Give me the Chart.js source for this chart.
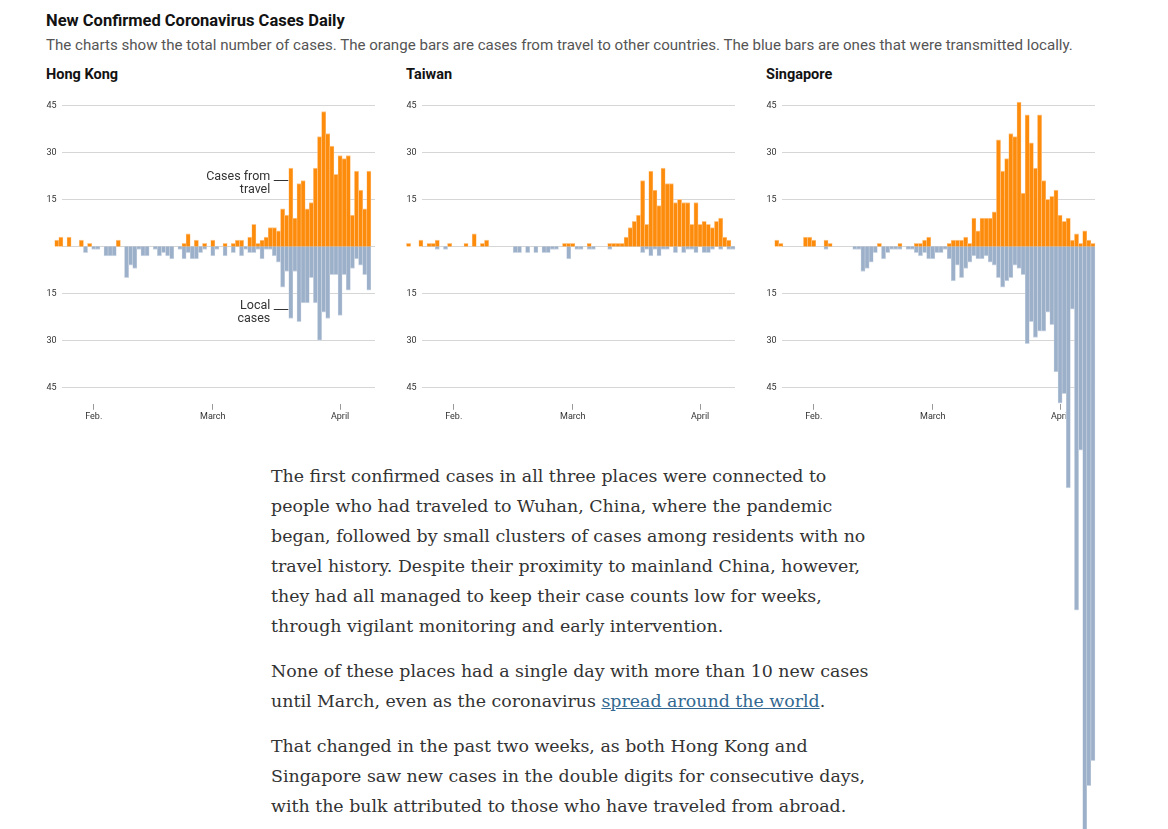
<!DOCTYPE html>
<html>
<head>
<meta charset="utf-8">
<script src="https://cdn.jsdelivr.net/npm/chart.js@4"></script>
<style>
  body { margin: 0; background: #fff; width: 1168px; height: 829px; overflow: hidden; position: relative; font-family: Roboto, sans-serif; color: #333; }
  .title { position: absolute; left: 46px; top: 11px; font-size: 16.5px; line-height: 19px; font-weight: bold; color: #121212; }
  .sub { position: absolute; left: 46px; top: 36px; font-size: 15.1px; line-height: 18px; color: #555; }
  .panel { position: absolute; top: 66px; font-size: 14.5px; line-height: 18px; font-weight: bold; color: #121212; }
  canvas { position: absolute; top: 90px; }
  .story { position: absolute; left: 271px; font-family: "DejaVu Serif", serif; font-size: 17.4px; line-height: 30px; color: #333; white-space: nowrap; }
  .story a { color: #326891; text-decoration: underline; }
</style>
</head>
<body>
<div class="title">New Confirmed Coronavirus Cases Daily</div>
<div class="sub">The charts show the total number of cases. The orange bars are cases from travel to other countries. The blue bars are ones that were transmitted locally.</div>
<div class="panel" style="left:46px">Hong Kong</div>
<div class="panel" style="left:406px">Taiwan</div>
<div class="panel" style="left:766px">Singapore</div>

<div class="story" style="top:461px">The first confirmed cases in all three places were connected to<br>people who had traveled to Wuhan, China, where the pandemic<br>began, followed by small clusters of cases among residents with no<br>travel history. Despite their proximity to mainland China, however,<br>they had all managed to keep their case counts low for weeks,<br>through vigilant monitoring and early intervention.</div>
<div class="story" style="top:656px">None of these places had a single day with more than 10 new cases<br>until March, even as the coronavirus <a>spread around the world</a>.</div>
<div class="story" style="top:731px">That changed in the past two weeks, as both Hong Kong and<br>Singapore saw new cases in the double digits for consecutive days,<br>with the bulk attributed to those who have traveled from abroad.</div>

<canvas id="hk" width="340" height="739" style="left:40px"></canvas>
<canvas id="tw" width="340" height="739" style="left:400px"></canvas>
<canvas id="sg" width="340" height="739" style="left:760px"></canvas>

<script>
const days = [
  'Jan 21','Jan 22','Jan 23','Jan 24','Jan 25','Jan 26','Jan 27','Jan 28','Jan 29','Jan 30','Jan 31',
  'Feb 1','Feb 2','Feb 3','Feb 4','Feb 5','Feb 6','Feb 7','Feb 8','Feb 9','Feb 10',
  'Feb 11','Feb 12','Feb 13','Feb 14','Feb 15','Feb 16','Feb 17','Feb 18','Feb 19','Feb 20',
  'Feb 21','Feb 22','Feb 23','Feb 24','Feb 25','Feb 26','Feb 27','Feb 28','Feb 29',
  'Mar 1','Mar 2','Mar 3','Mar 4','Mar 5','Mar 6','Mar 7','Mar 8','Mar 9','Mar 10',
  'Mar 11','Mar 12','Mar 13','Mar 14','Mar 15','Mar 16','Mar 17','Mar 18','Mar 19','Mar 20',
  'Mar 21','Mar 22','Mar 23','Mar 24','Mar 25','Mar 26','Mar 27','Mar 28','Mar 29','Mar 30','Mar 31',
  'Apr 1','Apr 2','Apr 3','Apr 4','Apr 5','Apr 6','Apr 7','Apr 8','Apr 9'
];
const tickDays = ['Feb 1', 'Mar 1', 'Apr 1'];
const tickNames = ['Feb.', 'March', 'April'];
const yTickValues = [-45, -30, -15, 15, 30, 45];
const gridValues = [-45, -30, -15, 0, 15, 30, 45];

const hkTravel = [0,0,
  2,3,0,3,0,0,2,0,1,0, 0,0,0,0,0,2,0,0,0,0, 0,0,0,0,0,0,0,0,0,0,
  0,1,4,0,2,0,1,0,2,0, 0,1,0,1,2,2,0,3,7,1, 2,3,6,6,5,12,10,25,9,20,
  21,12,14,25,35,43,36,32,23,29, 28,29,10,24,18,12,24,0];
const hkLocal = [0,0,
  0,0,0,0,0,0,0,2,0,1, 1,0,3,3,3,0,0,10,6,7, 1,3,3,0,1,3,2,3,4,0,
  1,4,2,4,4,2,1,0,3,1, 0,3,0,2,0,3,1,2,2,1, 4,1,1,3,5,13,8,23,8,24,
  18,18,10,18,30,21,23,9,9,22, 9,14,7,4,6,9,14,0];

const twTravel = [1,0,
  0,2,0,1,1,2,0,0,1,0, 0,0,1,0,4,0,1,2,0,0, 0,0,0,0,0,0,0,0,0,0,
  0,0,0,0,0,0,1,1,1,0, 0,0,1,0,0,0,0,1,1,1, 1,3,6,8,10,21,7,24,18,13,
  25,20,20,14,15,14,14,7,14,7, 8,7,6,8,9,3,2,0];
const twLocal = [0,0,
  0,0,0,0,0,1,0,1,0,0, 0,0,0,0,0,0,0,0,0,0, 0,0,0,0,2,2,0,2,0,2,
  0,2,2,1,1,0,0,4,0,1, 1,0,1,1,0,0,0,1,0,0, 0,0,0,0,0,2,1,3,1,3,
  1,1,0,2,0,2,1,1,2,0, 2,2,1,0,1,0,1,1];

const sgTravel = [0,0,
  2,1,0,0,0,0,0,3,3,2, 0,0,2,1,0,0,0,0,0,0, 0,0,0,0,0,1,0,0,0,0,
  1,0,0,0,1,1,2,3,0,0, 0,0,1,2,2,2,3,1,9,5, 9,9,9,11,34,24,28,36,35,46,
  17,42,33,25,42,21,15,16,18,10, 8,9,2,4,1,5,2,1];
const sgLocal = [0,0,
  0,0,0,0,0,0,0,0,0,0, 0,0,1,0,0,0,0,0,0,1, 1,8,7,5,2,0,4,2,1,1,
  1,0,1,1,2,3,2,4,4,2, 2,1,4,11,6,10,7,5,3,4, 4,3,5,6,10,13,11,10,6,7,
  9,31,24,29,27,27,21,25,40,50, 47,77,20,116,65,190,172,164];

const hkNotes = [
  { day: 'Mar 20', value: 21.3, lines: ['Cases from', 'travel'] },
  { day: 'Mar 20', value: -20, lines: ['Local', 'cases'] }
];

const orange = '#fd8c0c';
const orangeEdge = '#ffc68a';
const blue = '#9cb0c9';
const blueEdge = '#cdd7e4';

Chart.defaults.font.family = 'Roboto, sans-serif';
Chart.defaults.color = '#333';

const gridPlugin = {
  id: 'grid',
  beforeDatasetsDraw(chart) {
    const { ctx, chartArea, scales } = chart;
    ctx.save();
    ctx.strokeStyle = '#d6d6d6';
    ctx.lineWidth = 1;
    gridValues.forEach(v => {
      const y = Math.round(scales.y.getPixelForValue(v)) + 0.5;
      ctx.beginPath();
      ctx.moveTo(chartArea.left + 15.5, y);
      ctx.lineTo(chartArea.right, y);
      ctx.stroke();
    });
    ctx.restore();
  }
};

function notesPlugin(notes) {
  return {
    id: 'notes',
    afterDatasetsDraw(chart) {
      const { ctx, scales } = chart;
      const halfBar = scales.x.width / days.length / 2;
      ctx.save();
      ctx.font = '12.5px Roboto, sans-serif';
      ctx.fillStyle = '#333';
      ctx.strokeStyle = '#333';
      ctx.lineWidth = 1;
      ctx.textAlign = 'right';
      ctx.textBaseline = 'middle';
      notes.forEach(n => {
        const barLeft = scales.x.getPixelForValue(days.indexOf(n.day)) - halfBar;
        const y = Math.round(scales.y.getPixelForValue(n.value)) + 0.5;
        ctx.beginPath();
        ctx.moveTo(barLeft - 15, y);
        ctx.lineTo(barLeft - 0.5, y);
        ctx.stroke();
        ctx.fillText(n.lines[0], barLeft - 18.5, y - 4);
        ctx.fillText(n.lines[1], barLeft - 18.5, y + 9);
      });
      ctx.restore();
    }
  };
}

function makeChart(id, travel, local, notes) {
  const plugins = [gridPlugin];
  if (notes) plugins.push(notesPlugin(notes));
  return new Chart(document.getElementById(id), {
    type: 'bar',
    data: {
      labels: days,
      datasets: [
        {
          label: 'From travel',
          data: travel,
          backgroundColor: orange,
          borderColor: orangeEdge,
          borderWidth: { top: 1, left: 0.6, right: 0.6, bottom: 0 },
          clip: false
        },
        {
          label: 'Local',
          data: local.map(v => -v),
          backgroundColor: blue,
          borderColor: blueEdge,
          borderWidth: { top: 0, left: 0.6, right: 0.6, bottom: 1 },
          clip: false
        }
      ]
    },
    options: {
      responsive: false,
      animation: false,
      events: [],
      barPercentage: 1,
      categoryPercentage: 1,
      layout: { padding: { left: 6.5, right: 5, top: 15.3, bottom: 404.4 } },
      plugins: { legend: { display: false }, tooltip: { enabled: false } },
      scales: {
        x: {
          stacked: true,
          border: { display: false },
          grid: {
            drawOnChartArea: false,
            offset: false,
            tickLength: 6,
            color: c => tickDays.includes(days[c.index]) ? '#999' : 'rgba(0,0,0,0)'
          },
          ticks: {
            autoSkip: false,
            maxRotation: 0,
            padding: 2,
            font: { size: 9 },
            callback: (v, i) => {
              const k = tickDays.indexOf(days[i]);
              return k >= 0 ? tickNames[k] : '';
            }
          }
        },
        y: {
          stacked: true,
          min: -50.2,
          max: 45,
          border: { display: false },
          grid: { display: false, drawTicks: false },
          afterBuildTicks: scale => { scale.ticks = yTickValues.map(v => ({ value: v })); },
          ticks: {
            mirror: true,
            padding: 0,
            font: { size: 9 },
            callback: v => Math.abs(v)
          }
        }
      }
    },
    plugins: plugins
  });
}

makeChart('hk', hkTravel, hkLocal, hkNotes);
makeChart('tw', twTravel, twLocal);
makeChart('sg', sgTravel, sgLocal);
</script>
</body>
</html>
